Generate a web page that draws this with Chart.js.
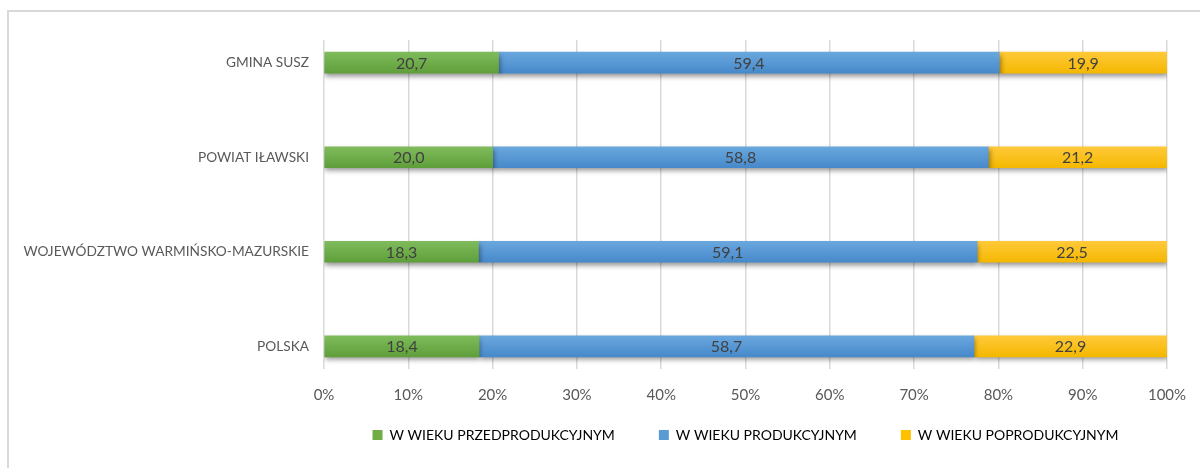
<!DOCTYPE html>
<html><head><meta charset="utf-8">
<script src="https://cdn.jsdelivr.net/npm/chart.js@4/dist/chart.umd.min.js"></script>
<style>
html,body{margin:0;padding:0;background:#fff;overflow:hidden}
#wrap{position:relative;width:1200px;height:468px;overflow:hidden}
#frame{position:absolute;left:7px;top:10px;width:1300px;height:600px;border-left:2px solid #d9d9d9;border-top:2px solid #d9d9d9;box-sizing:border-box}
canvas{position:absolute;left:0;top:0}
</style></head><body>
<div id="wrap"><div id="frame"></div><canvas id="c" width="1200" height="468"></canvas></div>
<script>
const categories = ['GMINA SUSZ', 'POWIAT IŁAWSKI', 'WOJEWÓDZTWO WARMIŃSKO-MAZURSKIE', 'POLSKA'];
const seriesNames = ['W WIEKU PRZEDPRODUKCYJNYM', 'W WIEKU PRODUKCYJNYM', 'W WIEKU POPRODUKCYJNYM'];
const przedprodukcyjny = [20.7, 20.0, 18.3, 18.4];
const produkcyjny = [59.4, 58.8, 59.1, 58.7];
const poprodukcyjny = [19.9, 21.2, 22.5, 22.9];
const xTickValues = [0, 10, 20, 30, 40, 50, 60, 70, 80, 90, 100];

const seriesValues = [przedprodukcyjny, produkcyjny, poprodukcyjny];
const solidColors = ['#70AD47', '#5B9BD5', '#FFC000'];
const gradTop = ['#7fbb5b', '#6aa7de', '#ffc93a'];
const gradBottom = ['#5f9f3b', '#4689ca', '#f4b800'];
const FONT = 'Lato, "Open Sans", sans-serif';
const BAR_T = 21;

const totals = categories.map((_, i) => seriesValues.reduce((s, arr) => s + arr[i], 0));

function gradient(k) {
  return function (ctx) {
    const ch = ctx.chart;
    const ys = ch.scales && ch.scales.y;
    if (!ys || ctx.dataIndex == null || !ch.chartArea) return solidColors[k];
    const c = ys.getPixelForValue(ctx.dataIndex);
    if (!isFinite(c)) return solidColors[k];
    const g = ch.ctx.createLinearGradient(0, c - BAR_T / 2, 0, c + BAR_T / 2);
    g.addColorStop(0, gradTop[k]);
    g.addColorStop(1, gradBottom[k]);
    return g;
  };
}

const datasets = seriesNames.map((name, k) => ({
  label: name,
  data: seriesValues[k].map((v, i) => ({ x: v / totals[i] * 100, y: i })),
  rawValues: seriesValues[k],
  backgroundColor: gradient(k),
  borderWidth: 0,
  barThickness: BAR_T
}));

const shadowAndLabels = {
  id: 'shadowAndLabels',
  beforeDatasetsDraw(chart) {
    const c = chart.ctx;
    c.save();
    c.shadowColor = 'rgba(0,0,0,0.42)';
    c.shadowBlur = 5;
    c.shadowOffsetX = 1;
    c.shadowOffsetY = 3;
  },
  afterDatasetsDraw(chart) {
    const c = chart.ctx;
    c.restore();
    c.save();
    c.font = '16px ' + FONT;
    c.fillStyle = '#404040';
    c.textAlign = 'center';
    c.textBaseline = 'middle';
    chart.data.datasets.forEach((ds, k) => {
      const meta = chart.getDatasetMeta(k);
      meta.data.forEach((el, i) => {
        const cx = (el.x + el.base) / 2;
        c.fillText(ds.rawValues[i].toFixed(1).replace('.', ','), cx, el.y + 1);
      });
    });
    c.restore();
  }
};

new Chart(document.getElementById('c'), {
  type: 'bar',
  data: { datasets },
  options: {
    indexAxis: 'y',
    responsive: false,
    devicePixelRatio: 1,
    animation: false,
    events: [],
    layout: { padding: { top: 40, right: 33, bottom: 16, left: 0 } },
    scales: {
      x: {
        type: 'linear',
        stacked: true,
        min: 0,
        max: 100,
        afterBuildTicks(scale) { scale.ticks = xTickValues.map(v => ({ value: v })); },
        afterFit(scale) {
          scale.height = 15;
          scale.paddingLeft = 0;
          scale.paddingRight = 0;
          scale._computeLabelArea = function () { return undefined; };
        },
        ticks: {
          callback: v => v + '%',
          color: '#595959',
          font: { family: FONT, size: 15 },
          padding: 17,
          maxRotation: 0
        },
        grid: { color: '#d9d9d9', lineWidth: 1.5, drawTicks: false },
        border: { display: false }
      },
      y: {
        type: 'linear',
        stacked: true,
        reverse: true,
        offset: false,
        min: -0.24,
        max: 3.24,
        afterBuildTicks(scale) { scale.ticks = categories.map((_, i) => ({ value: i })); },
        afterFit(scale) { scale.width = 324; },
        ticks: {
          callback: v => categories[v],
          color: '#595959',
          font: { family: FONT, size: 13.7 },
          padding: 15,
          autoSkip: false
        },
        grid: { display: false, drawTicks: false },
        border: { display: false }
      }
    },
    plugins: {
      legend: {
        position: 'bottom',
        fullSize: false,
        labels: {
          boxWidth: 10,
          boxHeight: 10,
          padding: 44,
          color: '#595959',
          font: { family: FONT, size: 14 },
          generateLabels: () => seriesNames.map((n, k) => ({
            text: n, fillStyle: solidColors[k], strokeStyle: solidColors[k], lineWidth: 0, datasetIndex: k
          }))
        }
      },
      tooltip: { enabled: false }
    }
  },
  plugins: [shadowAndLabels]
});
</script>
</body></html>
